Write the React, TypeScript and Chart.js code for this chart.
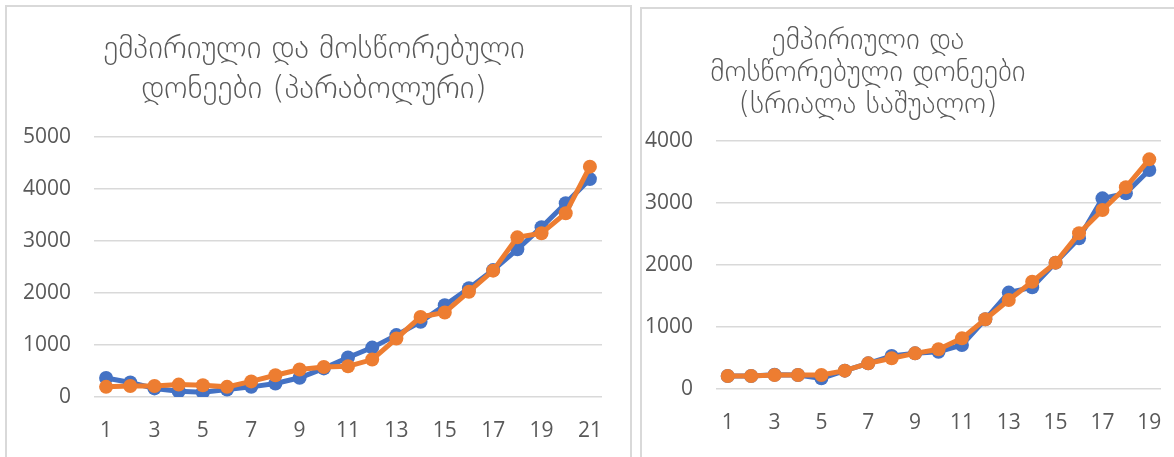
import React, { useEffect, useRef } from "react";
import { Chart, registerables } from "chart.js";

Chart.register(...registerables);

// ---------- data ----------
const leftTitle = ["ემპირიული და მოსწორებული", "დონეები (პარაბოლური)"];
const leftCategories = ["1","2","3","4","5","6","7","8","9","10","11","12","13","14","15","16","17","18","19","20","21"];
const leftShownLabels = ["1","3","5","7","9","11","13","15","17","19","21"];
const leftEmpirical = [366, 280, 165, 110, 90, 145, 195, 260, 370, 550, 760, 950, 1190, 1445, 1765, 2090, 2440, 2840, 3265, 3725, 4190];
const leftFitted = [195, 212, 212, 238, 225, 195, 300, 418, 528, 578, 590, 720, 1125, 1540, 1625, 2025, 2430, 3070, 3150, 3535, 4430];
const leftYMax = 5000;

const rightTitle = ["ემპირიული და", "მოსწორებული დონეები", "(სრიალა საშუალო)"];
const rightCategories = ["1","2","3","4","5","6","7","8","9","10","11","12","13","14","15","16","17","18","19"];
const rightShownLabels = ["1","3","5","7","9","11","13","15","17","19"];
const rightEmpirical = [210, 210, 230, 225, 172, 296, 414, 532, 575, 602, 710, 1124, 1555, 1640, 2038, 2430, 3075, 3156, 3532];
const rightFitted = [210, 210, 226, 225, 226, 296, 414, 495, 575, 640, 817, 1124, 1435, 1731, 2038, 2511, 2887, 3253, 3704];
const rightYMax = 4000;

const yStep = 1000;

const BLUE = "#4472C4";
const ORANGE = "#ED7D31";
const TEXT = "#595959";
const GRID = "#d9d9d9";

type PanelProps = {
  left: number;
  width: number;
  title: string[];
  titleSize: number;
  titleLine: number;
  titlePadTop: number;
  titlePadBottom: number;
  categories: string[];
  shown: string[];
  empirical: number[];
  fitted: number[];
  yMax: number;
  yWidth: number;
  rightGap: number;
  xHeight: number;
};

function Panel(p: PanelProps) {
  const ref = useRef<HTMLCanvasElement | null>(null);
  useEffect(() => {
    if (!ref.current) return;
    const tickFont = { family: "'Open Sans', sans-serif", size: 21 };
    const scales: any = {
      x: {
        type: "category",
        offset: true,
        grid: { display: false, drawTicks: false },
        border: { display: false },
        ticks: {
          color: TEXT,
          font: tickFont,
          padding: 21,
          autoSkip: false,
          maxRotation: 0,
          callback: function (this: any, value: any) {
            const lab = this.getLabelForValue(value);
            return p.shown.indexOf(lab) >= 0 ? lab : "";
          },
        },
        afterFit: (s: any) => { s.height = p.xHeight; },
      },
      y: {
        min: 0,
        max: p.yMax,
        grid: { color: GRID, lineWidth: 1.5, drawTicks: false },
        border: { display: false },
        ticks: {
          stepSize: yStep,
          color: TEXT,
          font: tickFont,
          padding: 23,
          callback: (v: any) => String(v),
        },
        afterFit: (s: any) => { s.width = p.yWidth; },
      },
      gap: {
        type: "linear",
        position: "right",
        display: true,
        grid: { display: false, drawTicks: false },
        border: { display: false },
        ticks: { display: false },
        afterFit: (s: any) => { s.width = p.rightGap; },
      },
    };
    const chart = new Chart(ref.current, {
      type: "line",
      data: {
        labels: p.categories,
        datasets: [
          {
            label: "fitted",
            data: p.fitted,
            borderColor: ORANGE,
            backgroundColor: ORANGE,
            borderWidth: 5,
            pointRadius: 7,
            pointBorderWidth: 0,
            pointBackgroundColor: ORANGE,
            order: 0,
            yAxisID: "y",
          },
          {
            label: "empirical",
            data: p.empirical,
            borderColor: BLUE,
            backgroundColor: BLUE,
            borderWidth: 5,
            pointRadius: 7,
            pointBorderWidth: 0,
            pointBackgroundColor: BLUE,
            order: 1,
            yAxisID: "y",
          },
        ],
      },
      options: {
        animation: false,
        responsive: false,
        maintainAspectRatio: false,
        events: [],
        layout: { padding: 0 },
        plugins: {
          legend: { display: false },
          tooltip: { enabled: false },
          title: {
            display: true,
            text: p.title,
            color: TEXT,
            font: { family: "'DejaVu Sans', sans-serif", size: p.titleSize, weight: "200", lineHeight: p.titleLine + "px" },
            padding: { top: p.titlePadTop, bottom: p.titlePadBottom },
          },
        },
        scales,
      },
    } as any);
    return () => chart.destroy();
  }, []);
  return (
    <canvas
      ref={ref}
      width={p.width}
      height={457}
      style={{ position: "absolute", left: p.left, top: 0, width: p.width, height: 457 }}
    />
  );
}

export default function App() {
  return (
    <div style={{ position: "absolute", left: 0, top: 0, width: 1174, height: 457, overflow: "hidden", background: "#fff" }}>
      <Panel
        left={0}
        width={628}
        title={leftTitle}
        titleSize={31.5}
        titleLine={40}
        titlePadTop={30}
        titlePadBottom={27}
        categories={leftCategories}
        shown={leftShownLabels}
        empirical={leftEmpirical}
        fitted={leftFitted}
        yMax={leftYMax}
        yWidth={94}
        rightGap={26}
        xHeight={60}
      />
      <Panel
        left={550}
        width={636}
        title={rightTitle}
        titleSize={29.5}
        titleLine={32}
        titlePadTop={25}
        titlePadBottom={20}
        categories={rightCategories}
        shown={rightShownLabels}
        empirical={rightEmpirical}
        fitted={rightFitted}
        yMax={rightYMax}
        yWidth={166}
        rightGap={25}
        xHeight={68}
      />
      <div style={{ position: "absolute", left: 5, top: 5, width: 627, height: 470, border: "2px solid " + GRID, boxSizing: "border-box", pointerEvents: "none" }} />
      <div style={{ position: "absolute", left: 640, top: 7, width: 560, height: 470, border: "2px solid " + GRID, boxSizing: "border-box", pointerEvents: "none" }} />
    </div>
  );
}
